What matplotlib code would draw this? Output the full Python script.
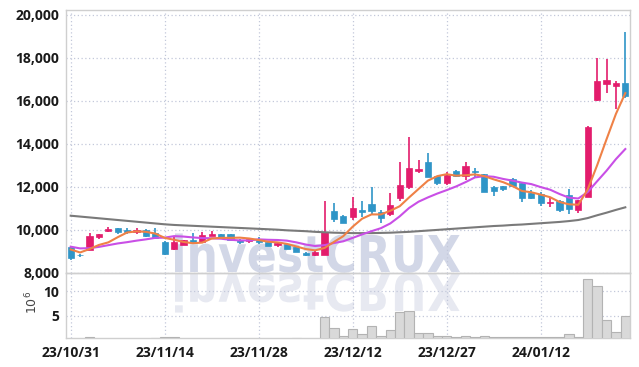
import numpy as np
import matplotlib
matplotlib.use("Agg")
import matplotlib.pyplot as plt
from matplotlib.textpath import TextPath
from matplotlib.patches import PathPatch
from matplotlib.font_manager import FontProperties
from matplotlib.transforms import Affine2D
from matplotlib.ticker import FuncFormatter

# trading days (KRX), 23/10/31 .. 24/01/25
dates = ["23/10/31",
         "23/11/01", "23/11/02", "23/11/03", "23/11/06", "23/11/07", "23/11/08", "23/11/09",
         "23/11/10", "23/11/13", "23/11/14", "23/11/15", "23/11/16", "23/11/17", "23/11/20",
         "23/11/21", "23/11/22", "23/11/23", "23/11/24", "23/11/27", "23/11/28", "23/11/29",
         "23/11/30", "23/12/01", "23/12/04", "23/12/05", "23/12/06", "23/12/07", "23/12/08",
         "23/12/11", "23/12/12", "23/12/13", "23/12/14", "23/12/15", "23/12/18", "23/12/19",
         "23/12/20", "23/12/21", "23/12/22", "23/12/26", "23/12/27", "23/12/28", "24/01/02",
         "24/01/03", "24/01/04", "24/01/05", "24/01/08", "24/01/09", "24/01/10", "24/01/11",
         "24/01/12", "24/01/15", "24/01/16", "24/01/17", "24/01/18", "24/01/19", "24/01/22",
         "24/01/23", "24/01/24", "24/01/25"]

opens = [9190, 8830, 9060, 9680, 9960, 10080, 9980, 9910, 9990, 9830,
         9440, 9110, 9290, 9520, 9440, 9720, 9800, 9800, 9520, 9480,
         9520, 9410, 9290, 9320, 9180, 8930, 8810, 8830, 10880, 10650,
         10580, 10920, 11200, 10840, 10720, 11490, 12000, 12750, 13150, 12500,
         12190, 12740, 12510, 12730, 12590, 12000, 12030, 12350, 12160, 11690,
         11660, 11230, 11350, 11610, 10920, 11540, 16030, 16760, 16700, 16840]
highs = [9260, 8860, 9830, 9820, 10140, 10100, 10090, 10070, 10010, 10090,
         9460, 9650, 9530, 9830, 9880, 9950, 9810, 9810, 9570, 9630,
         9640, 9420, 9410, 9330, 9190, 8950, 9000, 11350, 11260, 10660,
         11530, 11330, 12000, 10930, 11690, 13130, 14300, 13240, 13550, 12510,
         12700, 12760, 13130, 12860, 12600, 12010, 12040, 12420, 12170, 11850,
         11770, 11460, 11360, 11880, 11400, 14800, 17970, 17920, 16930, 19210]
lows = [8590, 8720, 9040, 9570, 9880, 9820, 9800, 9820, 9680, 9610,
        8840, 9070, 9280, 9400, 9430, 9710, 9620, 9510, 9320, 9370,
        9330, 9250, 9180, 9090, 8940, 8790, 8790, 8820, 10340, 10300,
        10450, 10580, 10720, 10310, 10640, 11350, 11880, 12620, 12440, 12080,
        12080, 12440, 12310, 12470, 11760, 11580, 11790, 11990, 11270, 11420,
        11100, 11070, 10840, 10720, 10760, 11500, 16000, 16340, 15600, 16110]
closes = [8700, 8800, 9710, 9800, 10030, 9890, 9900, 9980, 9720, 9630,
          8860, 9440, 9520, 9420, 9750, 9800, 9630, 9520, 9450, 9560,
          9420, 9260, 9360, 9100, 8950, 8810, 8980, 9900, 10500, 10330,
          11000, 10840, 10870, 10530, 11150, 12080, 12880, 12830, 12470, 12190,
          12540, 12510, 12960, 12660, 11770, 11800, 11880, 12050, 11490, 11490,
          11230, 11300, 10920, 10950, 11380, 14790, 16920, 16960, 16840, 16220]

# volume, 10^6 shares
volumes = [0.3, 0.35, 0.65, 0.3, 0.25, 0.3, 0.35, 0.3, 0.3, 0.4,
           0.65, 0.65, 0.35, 0.3, 0.3, 0.35, 0.3, 0.3, 0.25, 0.3,
           0.3, 0.35, 0.3, 0.3, 0.4, 0.35, 0.3, 4.68, 2.45, 0.89,
           2.25, 1.3, 2.9, 0.89, 2.04, 5.69, 5.95, 1.5, 1.5, 0.95,
           0.95, 0.7, 0.95, 0.7, 0.95, 0.65, 0.65, 0.65, 0.65, 0.65,
           0.65, 0.65, 0.65, 1.3, 0.7, 12.37, 11.0, 4.07, 1.64, 4.94]

# moving averages
ma5 = [9080, 8940, 9100, 9290, 9410, 9650, 9870, 9920, 9900, 9820,
       9620, 9530, 9430, 9370, 9400, 9590, 9620, 9620, 9630, 9590,
       9520, 9440, 9410, 9340, 9220, 9100, 9040, 9150, 9430, 9700,
       10140, 10510, 10710, 10710, 10880, 11090, 11500, 11890, 12280, 12490,
       12580, 12510, 12530, 12570, 12490, 12340, 12210, 12030, 11800, 11740,
       11630, 11510, 11290, 11180, 11160, 11870, 12990, 14200, 15380, 16350]
ma10 = [9210, 9130, 9140, 9200, 9280, 9360, 9420, 9490, 9550, 9620,
        9630, 9700, 9680, 9640, 9610, 9600, 9580, 9530, 9500, 9500,
        9550, 9530, 9520, 9490, 9410, 9310, 9240, 9280, 9380, 9460,
        9620, 9780, 9930, 10070, 10290, 10620, 11010, 11300, 11500, 11680,
        11840, 12010, 12210, 12430, 12490, 12460, 12360, 12280, 12190, 12120,
        11980, 11860, 11660, 11490, 11450, 11750, 12250, 12740, 13280, 13750]
ma60 = [10650, 10610, 10570, 10530, 10490, 10450, 10410, 10370, 10330, 10290,
        10250, 10220, 10200, 10180, 10160, 10140, 10120, 10100, 10080, 10060,
        10040, 10020, 10000, 9970, 9950, 9930, 9900, 9880, 9860, 9850,
        9840, 9840, 9840, 9850, 9860, 9880, 9900, 9930, 9960, 9990,
        10020, 10050, 10080, 10110, 10140, 10170, 10190, 10220, 10240, 10270,
        10300, 10330, 10360, 10400, 10450, 10540, 10670, 10790, 10920, 11040]

tick_idx = [0, 10, 20, 30, 40, 50]

UP = "#e31c6c"
DOWN = "#2f95c7"
FONT = ["Open Sans", "Lato", "DejaVu Sans"]

W, H = 639, 367
fig = plt.figure(figsize=(W / 100, H / 100), dpi=100)
fig.patch.set_facecolor("white")

left, right = 66 / W, 630 / W
y_top, y_mid, y_bot = 1 - 10.3 / H, 1 - 272.7 / H, 1 - 338 / H
ax = fig.add_axes([left, y_mid, right - left, y_top - y_mid])
axv = fig.add_axes([left, y_bot, right - left, y_mid - y_bot], sharex=ax)

# watermark with reflection, in pixel coordinates
fp = FontProperties(family="DejaVu Sans", weight="bold")
tp = TextPath((0, 0), "investCRUX", size=100, prop=fp)
ext = tp.get_extents()
sx = 285 / ext.width
sy = 37 / 72.9
tx = 175 - ext.x0 * sx
fig.add_artist(PathPatch(tp, transform=Affine2D().scale(sx, sy).translate(tx, H - 272),
                         facecolor="#d2d7e7", edgecolor="none", zorder=-5))
fig.add_artist(PathPatch(tp, transform=Affine2D().scale(sx, -sy).translate(tx, H - 274),
                         facecolor="#e7e9f1", edgecolor="none", zorder=-5))

x = np.arange(len(dates))
o = np.array(opens)
c = np.array(closes)
colors = [UP if cc >= oo else DOWN for oo, cc in zip(o, c)]

ax.vlines(x, lows, highs, colors=colors, linewidth=1.2, zorder=3)
ax.bar(x, np.maximum(np.abs(c - o), 40), bottom=np.minimum(o, c), width=0.68,
       color=colors, edgecolor=colors, linewidth=0.5, zorder=3)

ax.plot(x, ma60, color="#7a7a7a", linewidth=1.5, zorder=4)
ax.plot(x, ma10, color="#c94fe6", linewidth=1.5, zorder=4)
ax.plot(x, ma5, color="#ef8146", linewidth=1.5, zorder=4)

axv.bar(x, volumes, width=1.0, color="#d9d9d9", edgecolor="#b3b3b3", linewidth=0.8, zorder=3)

for a in (ax, axv):
    a.set_facecolor("none")
    for s in a.spines.values():
        s.set_color("#cfcfcf")
        s.set_linewidth(1.0)
    a.grid(True, linestyle=(0, (1, 2)), color="#c3c8da", linewidth=0.9)
    a.set_axisbelow(True)
    a.tick_params(length=0, labelsize=10, colors="#1a1a1a")

ax.set_xlim(-0.5, len(dates) - 0.5)
ax.set_ylim(8000, 20200)
ax.set_yticks(np.arange(8000, 20001, 2000))
ax.yaxis.set_major_formatter(FuncFormatter(lambda v, p: f"{int(v):,}"))
ax.tick_params(axis="x", labelbottom=False)
ax.tick_params(axis="y", pad=5)

axv.set_ylim(0.5, 13.7)
axv.set_yticks([5, 10])
axv.set_xticks(tick_idx)
axv.set_xticklabels([dates[i] for i in tick_idx])
axv.tick_params(axis="y", pad=5)
axv.tick_params(axis="x", pad=6)

for lab in ax.get_yticklabels() + axv.get_yticklabels() + axv.get_xticklabels():
    lab.set_family(FONT)
    lab.set_fontweight("bold")

fig.text(32 / W, 1 - 302 / H, r"$10^{6}$", rotation=90, ha="center", va="center",
         fontsize=9, color="#444444")

fig.savefig("out.png", dpi=100)
